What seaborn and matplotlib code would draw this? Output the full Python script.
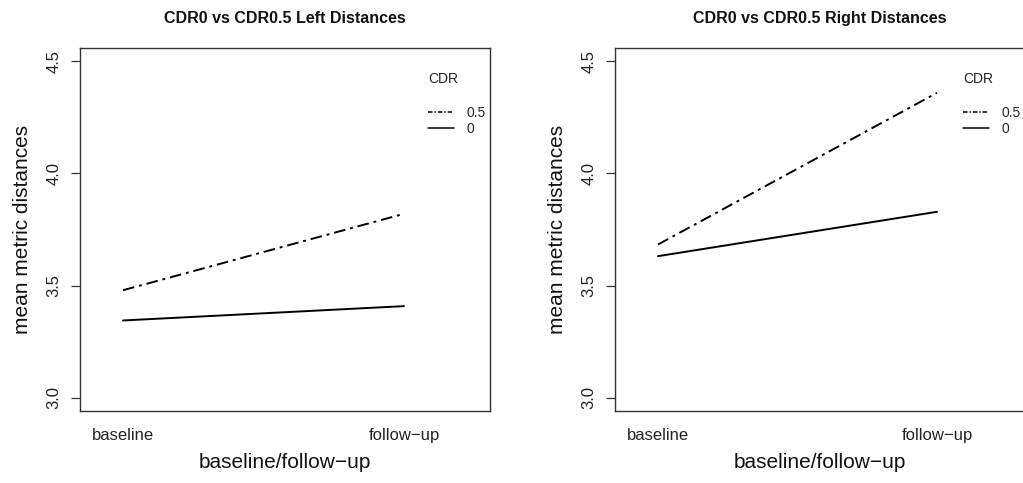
import pandas as pd
import numpy as np
import matplotlib
matplotlib.use("Agg")
import matplotlib.pyplot as plt
import seaborn as sns
from matplotlib.lines import Line2D

# values
visits = ["baseline", "follow\u2212up"]
cdr_levels = ["0.5", "0"]
left_cdr05 = [3.479, 3.820]
left_cdr0 = [3.344, 3.408]
right_cdr05 = [3.683, 4.360]
right_cdr0 = [3.631, 3.829]
titles = ["CDR0 vs CDR0.5 Left Distances", "CDR0 vs CDR0.5 Right Distances"]
yticks = [3.0, 3.5, 4.0, 4.5]

sns.set_theme(style="white")
plt.rcParams['font.family'] = ['Liberation Sans', 'DejaVu Sans']


def long_df(v05, v0):
    rows = []
    for i, v in enumerate(visits):
        rows.append({"visit": v, "pos": i, "CDR": "0.5", "mean": v05[i]})
        rows.append({"visit": v, "pos": i, "CDR": "0", "mean": v0[i]})
    return pd.DataFrame(rows)


dash_styles = {"0.5": (6, 2.5, 1.5, 2.5), "0": ""}

fig = plt.figure(figsize=(10.23, 4.83), dpi=100)
# the right panel runs past the figure edge, as in the original
boxes = [(80, 410, 281), (615, 440, 279)]
panels = [(left_cdr05, left_cdr0), (right_cdr05, right_cdr0)]

for k, (v05, v0) in enumerate(panels):
    x0, w, ppu = boxes[k]
    ax = fig.add_axes([x0 / 1023, 72 / 483, w / 1023, 363 / 483])
    df = long_df(v05, v0)
    sns.lineplot(data=df, x="pos", y="mean", style="CDR", style_order=cdr_levels,
                 dashes=dash_styles, color="black", linewidth=1.4,
                 legend=False, ax=ax)
    xmin = -43 / ppu
    ax.set_xlim(xmin, xmin + w / ppu)
    ax.set_ylim(2.94, 4.56)
    ax.set_xticks(range(len(visits)))
    ax.set_xticklabels(visits, fontsize=12, color="#222222")
    ax.set_yticks(yticks)
    ax.set_yticklabels([f"{t:.1f}" for t in yticks], fontsize=12,
                       rotation=90, va="center", color="#222222")
    ax.tick_params(axis="x", length=0, pad=12)
    ax.tick_params(axis="y", left=True, length=6.5, width=0.9, pad=7,
                   color="#333333")
    for s in ax.spines.values():
        s.set_visible(True)
        s.set_color("#333333")
        s.set_linewidth(1.0)
    ax.set_xlabel("baseline/follow\u2212up", fontsize=15, color="#111111")
    ax.set_ylabel("mean metric distances", fontsize=15, color="#111111")
    ax.xaxis.set_label_coords(205 / w, -0.115)
    ax.yaxis.set_label_coords(-0.118 * 410 / w, 0.5)
    ax.set_title(titles[k], fontsize=11.5, fontweight="bold", pad=18,
                 color="#111111", x=205 / w)
    ax.grid(False)

    lx = 348 / w
    ax.text(lx, 0.915, "CDR", transform=ax.transAxes, fontsize=10,
            va="center", ha="left", color="#222222")
    handles = [Line2D([], [], color="black", lw=1.1, dashes=(3, 1.2, 1, 1.2)),
               Line2D([], [], color="black", lw=1.1)]
    ax.legend(handles, cdr_levels, loc="upper left",
              bbox_to_anchor=(lx, 0.84), frameon=False, fontsize=10,
              borderpad=0, borderaxespad=0, handlelength=1.9,
              handletextpad=0.9, labelspacing=0.15)

fig.savefig("out.png", dpi=100)
